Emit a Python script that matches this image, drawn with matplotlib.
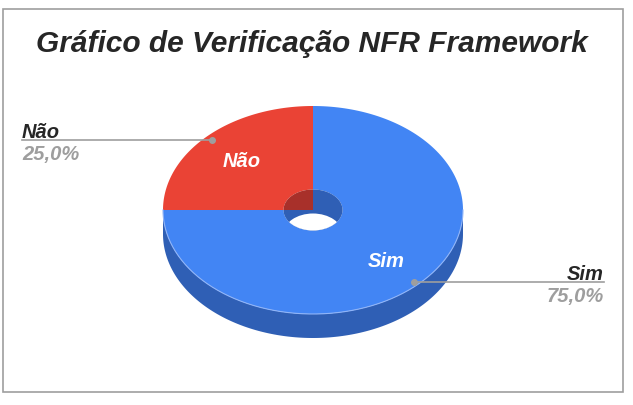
"""
Gráfico de pizza 3D com furo (estilo Google Sheets)
"""
import numpy as np
import matplotlib.pyplot as plt
from matplotlib.patches import Polygon, Ellipse, Rectangle

# dados
labels = ["Sim", "Não"]
values = [75, 25]
colors = ["#4285f4", "#ea4335"]
side_colors = ["#2f5fb5", "#a8302a"]

W, H = 633, 406
cx, cy = 313, 211       # centro da face superior (pixels)
a, b = 150, 104         # semi-eixos externos
ha, hb = 29.5, 20.5     # semi-eixos do furo
depth = 24

font = ["Liberation Sans", "DejaVu Sans"]

fig = plt.figure(figsize=(W / 100, H / 100), dpi=100)
ax = fig.add_axes([0, 0, 1, 1])
ax.set_xlim(0, W)
ax.set_ylim(H, 0)
ax.axis("off")

# moldura
ax.add_patch(Rectangle((3, 10), 620, 383, fill=False, ec="#9e9e9e", lw=1.2))


def pt(t, ra, rb, dy=0):
    return cx + ra * np.cos(t), cy + dy - rb * np.sin(t)


# ângulos das fatias: começa em 12h, sentido horário
fracs = np.array(values) / sum(values)
starts = np.pi / 2 - 2 * np.pi * np.concatenate([[0], np.cumsum(fracs)[:-1]])
ends = starts - 2 * np.pi * fracs

# lateral (metade frontal, só "Sim" fica visível)
t = np.linspace(np.pi, 2 * np.pi, 200)
x1, y1 = pt(t, a, b)
x2, y2 = pt(t[::-1], a, b, depth)
ax.add_patch(Polygon(np.column_stack([np.r_[x1, x2], np.r_[y1, y2]]),
                     closed=True, fc=side_colors[0], ec="none"))

# face superior
for s, e, c in zip(starts, ends, colors):
    t = np.linspace(s, e, 200)
    xo, yo = pt(t, a, b)
    xi, yi = pt(t[::-1], ha, hb)
    ax.add_patch(Polygon(np.column_stack([np.r_[xo, xi], np.r_[yo, yi]]),
                         closed=True, fc=c, ec="none", antialiased=True))

# borda clara entre topo e lateral
t = np.linspace(np.pi, 2 * np.pi, 200)
xr, yr = pt(t, a, b)
ax.plot(xr, yr, color="#8fb4f8", lw=0.8)

# parede interna do furo
for s, e, c in zip(starts, ends, side_colors):
    t = np.linspace(s, e, 200)
    xo, yo = pt(t, ha, hb)
    ax.add_patch(Polygon(np.column_stack([np.r_[xo, cx], np.r_[yo, cy]]),
                         closed=True, fc=c, ec="none"))
hole_clip = Ellipse((cx, cy), 2 * ha, 2 * hb, fc="none", ec="none")
ax.add_patch(hole_clip)
bottom = Ellipse((cx, cy + depth), 2 * ha, 2 * hb, fc="white", ec="none")
ax.add_patch(bottom)
bottom.set_clip_path(hole_clip)

# rótulos dentro das fatias
ax.text(386, 262, labels[0], color="white", fontsize=14.5, fontweight="bold",
        fontstyle="italic", family=font, ha="center", va="center")
ax.text(242, 162, labels[1], color="white", fontsize=14.5, fontweight="bold",
        fontstyle="italic", family=font, ha="center", va="center")

# linhas de chamada
ax.plot([22, 212], [141, 141], color="#9e9e9e", lw=1.2)
ax.plot(212, 141, "o", color="#9e9e9e", ms=4)
ax.text(22, 138, labels[1], color="#262626", fontsize=14.5, fontweight="bold",
        fontstyle="italic", family=font, ha="left", va="baseline")
ax.text(22, 160, f"{values[1]:.1f}%".replace(".", ","), color="#9e9e9e",
        fontsize=14.5, fontweight="bold", fontstyle="italic", family=font,
        ha="left", va="baseline")

ax.plot([414, 604], [283, 283], color="#9e9e9e", lw=1.2)
ax.plot(414, 283, "o", color="#9e9e9e", ms=4)
ax.text(604, 280, labels[0], color="#262626", fontsize=14.5, fontweight="bold",
        fontstyle="italic", family=font, ha="right", va="baseline")
ax.text(604, 302, f"{values[0]:.1f}%".replace(".", ","), color="#9e9e9e",
        fontsize=14.5, fontweight="bold", fontstyle="italic", family=font,
        ha="right", va="baseline")

# título
ax.text(312, 44, "Gráfico de Verificação NFR Framework", color="#262626",
        fontsize=21.5, fontweight="bold", fontstyle="italic", family=font,
        ha="center", va="center")

plt.savefig("out.png", dpi=100)
plt.close()
